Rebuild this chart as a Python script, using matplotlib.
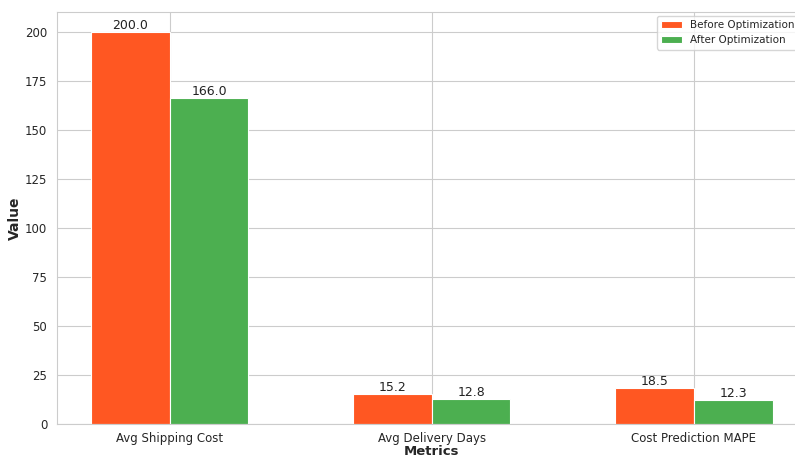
import numpy as np
import matplotlib
matplotlib.use('Agg')
import matplotlib.pyplot as plt
import seaborn as sns

sns.set_style('whitegrid')
plt.rcParams['font.family'] = ['DejaVu Sans']

metrics = ['Avg Shipping Cost', 'Avg Delivery Days', 'Cost Prediction MAPE']
before_vals = [200.0, 15.2, 18.5]
after_vals = [166.0, 12.8, 12.3]

fig = plt.figure(figsize=(7.95, 4.57), dpi=100)
# axes run slightly past the right edge of the canvas
ax = fig.add_axes([0.0717, 0.072, 0.943, 0.902])

x = np.arange(len(metrics))
width = 0.3
b1 = ax.bar(x - width / 2, before_vals, width, label='Before Optimization',
            color='#FF5722', edgecolor='white', linewidth=0.8)
b2 = ax.bar(x + width / 2, after_vals, width, label='After Optimization',
            color='#4CAF50', edgecolor='white', linewidth=0.8)

for bars in (b1, b2):
    for bar in bars:
        h = bar.get_height()
        ax.text(bar.get_x() + bar.get_width() / 2, h, f'{h:.1f}',
                ha='center', va='bottom', fontsize=9, color='#222222')

ax.set_xticks(x)
ax.set_xticklabels(metrics, fontsize=8.5)
ax.tick_params(axis='x', pad=2)
ax.tick_params(axis='y', labelsize=8.5)
ax.set_xlabel('Metrics', fontsize=9.5, fontweight='bold', labelpad=0)
ax.set_ylabel('Value', fontsize=10, fontweight='bold', labelpad=2)
ax.legend(loc='upper left', bbox_to_anchor=(0.826, 0.965),
          bbox_transform=fig.transFigure, fontsize=7.5, framealpha=0.8,
          borderaxespad=0)

fig.savefig('out.png', dpi=100)
